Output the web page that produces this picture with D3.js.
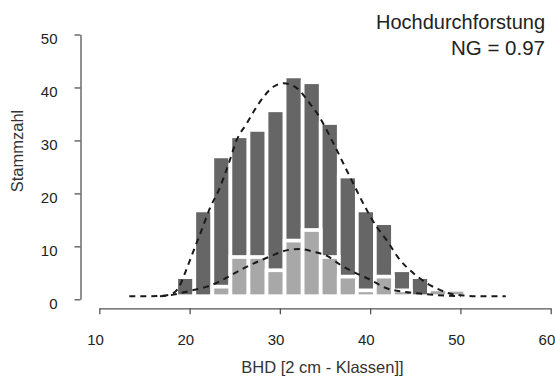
<!DOCTYPE html>
<html>
<head>
<meta charset="utf-8">
<script src="https://cdn.jsdelivr.net/npm/d3@7"></script>
<style>
body{margin:0;background:#fff;}
svg{display:block;font-family:"Liberation Sans",Arial,sans-serif;}
</style>
</head>
<body>
<div id="chart"></div>
<script>
// 2 cm Klassen (Klassenmitte)
var classes = [20,22,24,26,28,30,32,34,36,38,40,42,44,46,48,50];
var totalCount = [3.6,16.2,26.4,30.2,31.4,35.1,41.5,40.4,32.7,22.6,16.2,13.8,4.9,3.6,1.3,1.2];
var removedCount = [0,0,1.8,7.4,7.4,4.9,10.5,12.5,7.4,3.7,1.1,3.7,1.1,0,1.3,1.2];

// gestrichelte Kurven
var curveTotalX = [13.8,15.5,17.5,18.7,19.5,20,20.9,21.7,22.8,23.7,24.8,25.7,26.8,27.7,28.7,29.8,30.9,31.6,32.5,33.7,34.8,36.4,37.5,38.6,39.9,41.2,42.3,43.8,45.3,46.8,48.2,49.3,51,52.5,55.5];
var curveTotalY = [0,0,0.1,0.6,2.4,4.5,8.5,12,16.9,20,25,29.5,32.6,35.2,37.7,39.6,40.2,40,39.1,36.6,34,28.9,25.1,21.3,16.9,13.1,10.6,6.8,4.3,2.4,1.2,0.5,0.1,0,0];
var curveRemovedX = [17.2,18.7,20,21.5,22.4,23.7,24.8,26.5,27.6,29.4,31.3,32.7,34.2,35.7,37.2,38.6,40.5,42.3,44.2,46,47.9,50.5];
var curveRemovedY = [0,0.3,0.8,1.4,1.8,2.7,3.7,5.3,6.2,7.5,8.7,8.9,8.4,7.6,5.9,4.6,3.1,1.5,0.85,0.5,0.2,0];

var xTicks = [10,20,30,40,50,60];
var yTicks = [0,10,20,30,40,50];

var width = 555, height = 376;

var svg = d3.select("#chart").append("svg")
	.attr("width",width)
	.attr("height",height);

var x = d3.scaleLinear().domain([10,60]).range([95,546.4]),
	y = d3.scaleLinear().domain([0,50]).range([296.2,31.4]);

// Balken: Gesamt (dunkel), darueber entnommen (hell)
svg.append("g").selectAll("rect")
	.data(classes)
	.enter()
	.append("rect")
	.attr("x",function(d){ return x(d-1); })
	.attr("width",function(d){ return x(d+1)-x(d-1); })
	.attr("y",function(d,i){ return y(totalCount[i]); })
	.attr("height",function(d,i){ return y(0)-y(totalCount[i]); })
	.attr("fill","#666666")
	.attr("stroke","#fff")
	.attr("stroke-width",3.7);

svg.append("g").selectAll("rect")
	.data(classes.filter(function(d,i){ return removedCount[i]>0; }))
	.enter()
	.append("rect")
	.attr("x",function(d){ return x(d-1); })
	.attr("width",function(d){ return x(d+1)-x(d-1); })
	.attr("y",function(d){ return y(removedCount[classes.indexOf(d)]); })
	.attr("height",function(d){ return y(0)-y(removedCount[classes.indexOf(d)]); })
	.attr("fill","#a8a8a8")
	.attr("stroke","#fff")
	.attr("stroke-width",3.7);

var line = d3.line()
	.x(function(d){ return x(d[0]); })
	.y(function(d){ return y(d[1]); })
	.curve(d3.curveMonotoneX);

[[curveTotalX,curveTotalY],[curveRemovedX,curveRemovedY]].forEach(function(c){
	svg.append("path")
		.datum(c[0].map(function(v,i){ return [v,c[1][i]]; }))
		.attr("d",line)
		.attr("fill","none")
		.attr("stroke","#1a1a1a")
		.attr("stroke-width",2)
		.attr("stroke-dasharray","6,5");
});

// Achsen
var yAxis = svg.append("g")
	.attr("transform","translate(80.5,3.1)")
	.call(d3.axisLeft(y).tickValues(yTicks).tickSize(6).tickSizeOuter(0).tickPadding(17));

var xAxis = svg.append("g")
	.attr("transform","translate(4.3,308.3)")
	.call(d3.axisBottom(x).tickValues(xTicks).tickSize(6).tickSizeOuter(0).tickPadding(20));

[yAxis,xAxis].forEach(function(a){
	a.select(".domain").attr("stroke","#555").attr("stroke-width",1.3);
	a.selectAll(".tick line").attr("stroke","#555").attr("stroke-width",1.3);
	a.selectAll(".tick text").attr("fill","#222").style("font-size","15px");
});
yAxis.selectAll(".tick text").attr("dy","0.6em");
xAxis.selectAll(".tick text").attr("dx",-4.3);

svg.append("text")
	.attr("x",322.5)
	.attr("y",373)
	.attr("text-anchor","middle")
	.attr("fill","#333")
	.style("font-size","16.5px")
	.text("BHD [2 cm - Klassen]]");

svg.append("text")
	.attr("transform","translate(23,151) rotate(-90)")
	.attr("text-anchor","middle")
	.attr("fill","#333")
	.style("font-size","16.5px")
	.text("Stammzahl");

svg.append("text")
	.attr("x",545)
	.attr("y",29)
	.attr("text-anchor","end")
	.attr("fill","#222")
	.style("font-size","20px")
	.text("Hochdurchforstung");

svg.append("text")
	.attr("x",545)
	.attr("y",55)
	.attr("text-anchor","end")
	.attr("fill","#222")
	.style("font-size","20.5px")
	.text("NG = 0.97");
</script>
</body>
</html>
